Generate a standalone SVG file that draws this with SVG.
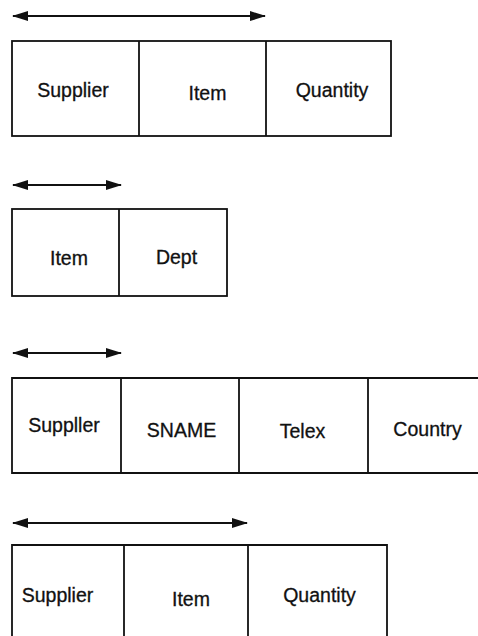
<svg xmlns="http://www.w3.org/2000/svg" width="478" height="636" viewBox="0 0 478 636">
  <style>
    .cell { fill: none; stroke: #111; stroke-width: 1.8; }
    .lbl { font-family: "Liberation Sans", Arial, sans-serif; font-size: 19.5px; fill: #111; stroke: #111; stroke-width: 0.3; text-anchor: middle; }
    .key { stroke: #111; stroke-width: 2; fill: none; marker-start: url(#head); marker-end: url(#head); }
  </style>
  <defs>
    <marker id="head" viewBox="0 0 16 10" refX="15" refY="5" markerWidth="16" markerHeight="10" markerUnits="userSpaceOnUse" orient="auto-start-reverse">
      <path d="M0,0 L16,5 L0,10 Z" fill="#111"/>
    </marker>
  </defs>
  <rect width="478" height="636" fill="#fff"/>

  <!-- key span arrows -->
  <g id="connectors">
    <line class="key" x1="13" y1="16" x2="265" y2="16"/>
    <line class="key" x1="13" y1="185" x2="121" y2="185"/>
    <line class="key" x1="13" y1="353" x2="121" y2="353"/>
    <line class="key" x1="13" y1="523" x2="247" y2="523"/>
  </g>

  <!-- relation 1 -->
  <g id="rel1">
    <rect class="cell" x="12" y="41" width="379" height="95"/>
    <line class="cell" x1="139" y1="41" x2="139" y2="136"/>
    <line class="cell" x1="266" y1="41" x2="266" y2="136"/>
    <text class="lbl" x="73" y="97">Supplier</text>
    <text class="lbl" x="207.5" y="100">Item</text>
    <text class="lbl" x="332" y="97">Quantity</text>
  </g>

  <!-- relation 2 -->
  <g id="rel2">
    <rect class="cell" x="12" y="209" width="215" height="87"/>
    <line class="cell" x1="119" y1="209" x2="119" y2="296"/>
    <text class="lbl" x="69" y="265">Item</text>
    <text class="lbl" x="176.5" y="264">Dept</text>
  </g>

  <!-- relation 3 (runs past the right edge) -->
  <g id="rel3">
    <path class="cell" d="M480,378 H12 V473 H480"/>
    <line class="cell" x1="121" y1="378" x2="121" y2="473"/>
    <line class="cell" x1="239" y1="378" x2="239" y2="473"/>
    <line class="cell" x1="368" y1="378" x2="368" y2="473"/>
    <text class="lbl" x="64" y="432">Suppller</text>
    <text class="lbl" x="181.5" y="437">SNAME</text>
    <text class="lbl" x="302.5" y="438">Telex</text>
    <text class="lbl" x="427.5" y="436">Country</text>
  </g>

  <!-- relation 4 (runs past the bottom edge) -->
  <g id="rel4">
    <path class="cell" d="M12,640 V545 H387 V640"/>
    <line class="cell" x1="124" y1="545" x2="124" y2="640"/>
    <line class="cell" x1="248" y1="545" x2="248" y2="640"/>
    <text class="lbl" x="57.5" y="602">Supplier</text>
    <text class="lbl" x="191" y="606">Item</text>
    <text class="lbl" x="319.5" y="602">Quantity</text>
  </g>
</svg>
